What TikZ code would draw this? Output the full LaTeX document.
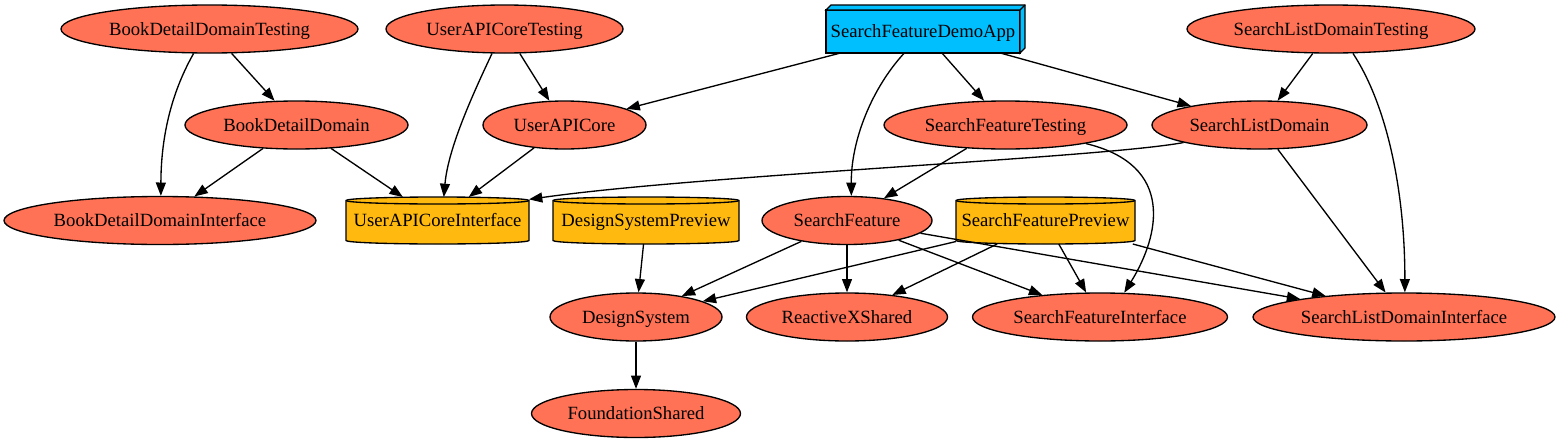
\documentclass[tikz,border=0pt]{standalone}
\usepackage{fontspec}
\setmainfont{Liberation Serif}
\usetikzlibrary{shapes.geometric,arrows.meta}
\definecolor{modfill}{HTML}{FF7256}
\definecolor{appfill}{HTML}{00BFFF}
\definecolor{cylfill}{HTML}{FFB90F}
\newcommand\mkcyl[5]{% name, cx, cy, width(px), text
  \pgfmathsetmacro\hw{#4/2}
  \draw[cylsty] (#2-\hw,#3-20) -- (#2-\hw,#3+20)
     arc[start angle=180,end angle=360,x radius=\hw*0.75pt,y radius=2.625pt]
     -- (#2+\hw,#3-20)
     arc[start angle=0,end angle=180,x radius=\hw*0.75pt,y radius=2.625pt] -- cycle;
  \draw[line width=1pt] (#2-\hw,#3-20)
     arc[start angle=180,end angle=360,x radius=\hw*0.75pt,y radius=2.625pt];
  \node[cyltext,minimum width=#4*0.75pt] (#1) at (#2,#3) {#5};
}
\begin{document}
\begin{tikzpicture}[x=0.75pt,y=-0.75pt,
  every node/.style={font=\fontsize{14pt}{16pt}\selectfont,text height=9pt,text depth=0pt},
  mod/.style={ellipse,draw,line width=1pt,fill=modfill,minimum height=36pt,inner sep=0pt},
  appbox/.style={rectangle,draw,line width=1pt,fill=appfill,minimum width=145.5pt,minimum height=32.25pt,inner sep=0pt,outer sep=0pt},
  cyltext/.style={rectangle,draw=none,minimum height=35.25pt,inner sep=0pt,outer sep=0pt},
  cylsty/.style={draw,line width=1pt,fill=cylfill},
  dep/.style={-{Triangle[length=10pt,width=7.5pt]},line width=1pt},
]
\useasboundingbox (0,0) rectangle (1561,443);

% row 1
\node[mod,minimum width=222.75pt] (BDDT) at (209.5,29) {BookDetailDomainTesting};
\node[mod,minimum width=177.75pt] (UAPCT) at (504.5,29) {UserAPICoreTesting};
\node[appbox] (App) at (923,31.5) {SearchFeatureDemoApp};
\draw[line width=1pt,fill=appfill,line join=miter] (App.north west) -- ++(5,-5) -- ++(194,0) -- ++(0,43) -- (App.south east) -- (App.north east) -- cycle;
\draw[line width=1pt] (App.north east) -- ++(5,-5);
\node[mod,minimum width=216pt] (SLDT) at (1331,29) {SearchListDomainTesting};

% row 2
\node[mod,minimum width=167.25pt] (BDD) at (296.5,125) {BookDetailDomain};
\node[mod,minimum width=122.25pt] (UAPC) at (564.5,125) {UserAPICore};
\node[mod,minimum width=182.25pt] (SFT) at (1005.5,125) {SearchFeatureTesting};
\node[mod,minimum width=161.25pt] (SLD) at (1259.5,125) {SearchListDomain};

% row 3
\node[mod,minimum width=234pt] (BDDI) at (160,220.5) {BookDetailDomainInterface};
\mkcyl{UAPCI}{437.5}{220.5}{183}{UserAPICoreInterface}
\mkcyl{DSP}{646}{220.5}{186}{DesignSystemPreview}
\node[mod,minimum width=127.5pt] (SF) at (847,220.5) {SearchFeature};
\mkcyl{SFP}{1045.5}{220.5}{179}{SearchFeaturePreview}

% row 4
\node[mod,minimum width=129pt] (DS) at (636,317) {DesignSystem};
\node[mod,minimum width=150.75pt] (RXS) at (847,317) {ReactiveXShared};
\node[mod,minimum width=191.25pt] (SFI) at (1100,317) {SearchFeatureInterface};
\node[mod,minimum width=226.5pt] (SLDI) at (1404,317) {SearchListDomainInterface};

% row 5
\node[mod,minimum width=156.75pt] (FS) at (636,413.5) {FoundationShared};

% curved edges
\draw[dep] (BDDT.-123) .. controls (170,95) and (161,140) .. (BDDI.88);
\draw[dep] (UAPCT.-117.5) .. controls (470,100) and (448,150) .. (UAPCI.75);
\draw[dep] (App.-131.5) .. controls (872,88) and (851,140) .. (SF.80);
\draw[dep] (SLDT.-48.5) .. controls (1390,110) and (1405,200) .. (SLDI.88);
\draw[dep] (SFT.-13.7) .. controls (1175,165) and (1160,235) .. (SFI.45.7);
\draw[dep] (SLD.-167.9) .. controls (1100,158) and (700,175) .. (UAPCI.13.5);

% straight edges
\draw[dep] (BDDT) -- (BDD);
\draw[dep] (BDD) -- (BDDI);
\draw[dep] (BDD) -- (UAPCI);
\draw[dep] (UAPCT) -- (UAPC);
\draw[dep] (UAPC) -- (UAPCI);
\draw[dep] (App) -- (UAPC);
\draw[dep] (App) -- (SFT);
\draw[dep] (App) -- (SLD);
\draw[dep] (SLDT) -- (SLD);
\draw[dep] (SLD) -- (SLDI);
\draw[dep] (SFT) -- (SF);
\draw[dep] (DSP) -- (DS);
\draw[dep] (SF) -- (DS);
\draw[dep] (SF) -- (RXS);
\draw[dep] (SF) -- (SFI);
\draw[dep] (SF) -- (SLDI);
\draw[dep] (SFP) -- (DS);
\draw[dep] (SFP) -- (RXS);
\draw[dep] (SFP) -- (SFI);
\draw[dep] (SFP) -- (SLDI);
\draw[dep] (DS) -- (FS);
\end{tikzpicture}
\end{document}
